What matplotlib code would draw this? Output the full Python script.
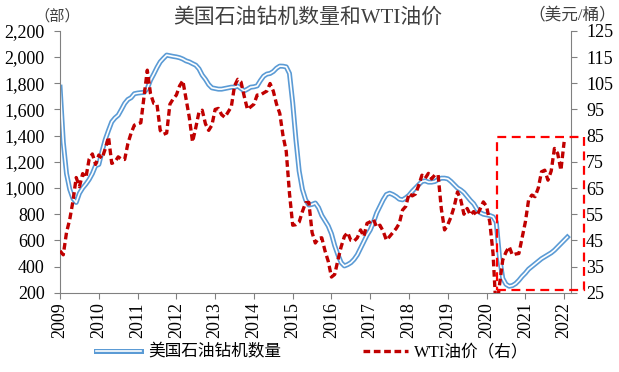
import numpy as np
import matplotlib
matplotlib.use("Agg")
import matplotlib.pyplot as plt
import matplotlib.patheffects as pe
from matplotlib.patches import Rectangle
from matplotlib.ticker import FuncFormatter

# 数据（月度，2009-01 起）
rigs = [
    1770, 1350, 1110, 990, 920, 890, 960, 1000, 1030, 1065, 1110, 1170,
    1180, 1280, 1370, 1440, 1505, 1535, 1556, 1600, 1646, 1676, 1690, 1720,
    1725, 1728, 1730, 1760, 1824, 1870, 1920, 1963, 1990, 2015, 2010, 2005,
    2001, 1995, 1985, 1971, 1963, 1950, 1938, 1910, 1862, 1830, 1790, 1765,
    1760, 1755, 1755, 1760, 1765, 1770, 1770, 1778, 1760, 1742, 1755, 1770,
    1773, 1780, 1820, 1854, 1870, 1875, 1890, 1915, 1931, 1930, 1925, 1875,
    1650, 1370, 1130, 990, 910, 870, 875, 885, 850, 790, 750, 710,
    650, 560, 490, 430, 405, 415, 430, 455, 490, 540, 590, 640,
    680, 740, 810, 860, 910, 950, 960, 950, 935, 915, 910, 925,
    945, 975, 1000, 1025, 1050, 1055, 1045, 1045, 1050, 1065, 1075, 1075,
    1070, 1050, 1025, 1000, 985, 965, 935, 905, 880, 840, 812, 800,
    795, 790, 780, 740, 470, 310, 265, 250, 255, 270, 295, 325,
    350, 380, 400, 420, 440, 460, 475, 490, 505, 525, 550, 575,
    600, 625,
]
wti = [
    41, 39.5, 48, 53, 60, 69, 65.5, 70.5, 69, 76, 78, 74,
    77.6, 76.3, 80, 84.5, 74.4, 75, 76.9, 76, 75.9, 82, 86, 89,
    89.5, 89.9, 100, 110, 101, 97.3, 97, 87, 85.5, 86, 97, 99,
    100.5, 104, 106, 99, 92, 82.6, 88, 94, 94.7, 89.5, 87, 89,
    95, 95.4, 93, 92, 94, 96, 104, 106.5, 105.5, 100, 95, 96,
    97, 100.5, 100.5, 101.3, 102, 104.9, 102, 97, 93.5, 85, 79, 63,
    50.8, 51, 52, 56, 59.4, 59.5, 48, 44, 45.8, 46, 41, 37,
    31, 32, 37.5, 42.6, 46.5, 48, 45, 44.7, 46, 49, 46.5, 51.5,
    52.1, 53, 50, 50.8, 48.5, 45.1, 46.5, 48, 49.5, 51.5, 56.6, 58,
    62.9, 62, 62.7, 66, 69.9, 68.7, 70.6, 68.5, 70, 70, 57, 49,
    51, 54, 58, 63.5, 60.5, 55, 57.2, 54.7, 56, 54.5, 57, 59.7,
    58, 52, 40, 17, 28, 37.5, 40.5, 42.6, 39.4, 39.8, 40, 46,
    52, 60.4, 62.3, 61.7, 65, 71.2, 71.8, 68, 71.5, 80.1, 78.2, 71.8,
    82.6,
]
years = list(range(2009, 2023))

t_rigs = 2009 + np.arange(len(rigs)) / 12
t_wti = 2009 + np.arange(len(wti)) / 12

# 拉丁字符用衬线体，中文回退到思源黑体
fonts = ["Liberation Serif", "Noto Sans CJK SC"]
blue = "#5B9BD5"
red = "#C00000"
axis_c = "#808080"
txt_c = "#404040"
dash = (0, (2.0, 1.1))

fig = plt.figure(figsize=(6.19, 3.72), dpi=100)
ax = fig.add_axes([0.097, 0.213, 0.825, 0.704])
ax2 = ax.twinx()

# 钻机数量：双线效果（蓝色描边 + 白色内线）
ax.plot(t_rigs, rigs, color="white", lw=1.2, solid_joinstyle="round",
        path_effects=[pe.Stroke(linewidth=3.6, foreground=blue), pe.Normal()],
        label="美国石油钻机数量")

# WTI 油价
ax2.plot(t_wti, wti, color=red, lw=2.4, linestyle=dash, label="WTI油价（右）")

ax.set_xlim(2009, 2022.17)
ax.set_ylim(200, 2200)
ax2.set_ylim(25, 125)
ax.set_yticks(range(200, 2201, 200))
ax2.set_yticks(range(25, 126, 10))
ax.set_xticks(years)
ax.set_xticklabels([str(y) for y in years], rotation=90, fontfamily=fonts, fontsize=13)
ax.yaxis.set_major_formatter(FuncFormatter(lambda v, p: f"{int(v):,}"))

for a in (ax, ax2):
    a.spines["top"].set_visible(False)
    for s in ("left", "right", "bottom"):
        a.spines[s].set_color(axis_c)
    a.tick_params(axis="y", direction="out", length=4, color=axis_c, pad=7)
    a.tick_params(axis="x", direction="out", length=4, color=axis_c, pad=3)
    for lab in a.get_yticklabels():
        lab.set_fontfamily(fonts)
        lab.set_fontsize(13)
ax.spines["right"].set_visible(False)
ax2.spines["left"].set_visible(False)
ax2.spines["bottom"].set_visible(False)

# 红色虚线框（2020 年后）
box = Rectangle((2020.28, 26), 2.23, 58.3, transform=ax2.transData, fill=False,
                edgecolor="#FF0000", lw=1.6, linestyle=(0, (4, 2.5)), clip_on=False, zorder=5)
ax2.add_patch(box)

fig.text(0.497, 0.952, "美国石油钻机数量和WTI油价", ha="center", va="center",
         fontsize=15, family=fonts, color=txt_c)
fig.text(0.092, 0.957, "（部）", ha="center", va="center", fontsize=11, family=fonts, color=txt_c)
fig.text(0.925, 0.957, "（美元/桶）", ha="center", va="center", fontsize=12, family=fonts, color=txt_c)

h1, l1 = ax.get_legend_handles_labels()
h2, l2 = ax2.get_legend_handles_labels()
fig.legend(h1 + h2, l1 + l2, loc="center", bbox_to_anchor=(0.505, 0.052), ncol=2,
           frameon=False, prop={"family": fonts, "size": 12}, handlelength=2.7,
           handletextpad=0.4, columnspacing=4.9)

fig.savefig("out.png", dpi=100)
